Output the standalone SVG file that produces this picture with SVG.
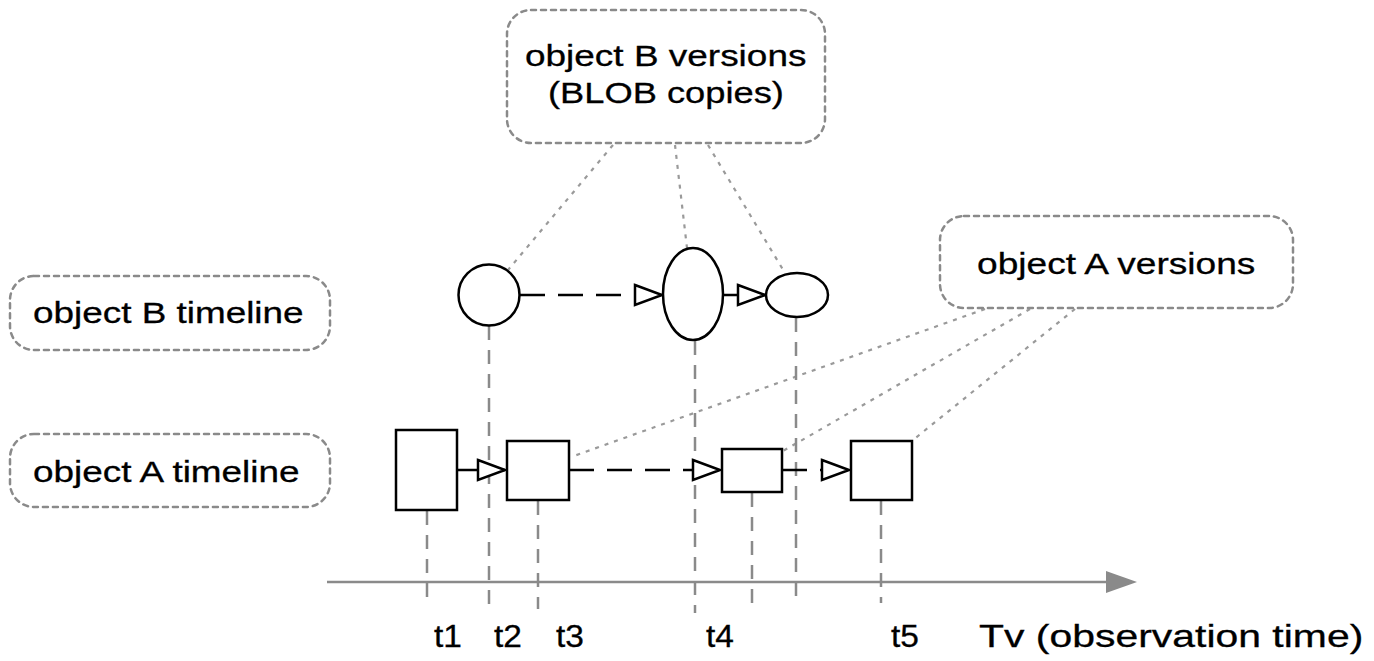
<svg xmlns="http://www.w3.org/2000/svg" width="1374" height="661" viewBox="0 0 1374 661">
<style>
  .lbl { font-family: "Liberation Sans", Arial, sans-serif; font-size: 30px; fill: #000; stroke: #000; stroke-width: 0.3; }
  .tl { font-family: "Liberation Sans", Arial, sans-serif; font-size: 31px; fill: #000; stroke: #000; stroke-width: 0.3; }
  .note { fill: #fff; stroke: #8a8a8a; stroke-width: 2.5; stroke-dasharray: 5 5; stroke-linecap: round; }
  .shape { fill: #fff; stroke: #000; stroke-width: 2.5; }
  .flow { fill: none; stroke: #000; stroke-width: 2.5; marker-end: url(#open); }
  .dashed { stroke-dasharray: 25 13; }
  .link { fill: none; stroke: #9a9a9a; stroke-width: 2.2; stroke-dasharray: 4 6; }
  .drop { fill: none; stroke: #8a8a8a; stroke-width: 2.5; stroke-dasharray: 14 10; }
  .axis { fill: none; stroke: #8a8a8a; stroke-width: 2.5; }
</style>
<defs>
  <marker id="open" markerUnits="userSpaceOnUse" markerWidth="32" markerHeight="26" viewBox="-2 -3 32 26" refX="27" refY="10" orient="auto">
    <path d="M0,0 L27,10 L0,20 Z" fill="#fff" stroke="#000" stroke-width="2.5"/>
  </marker>
</defs>
<rect width="1374" height="661" fill="#fff"/>

<g id="connectors">
  <line class="link" x1="613" y1="145" x2="508" y2="270"/>
  <line class="link" x1="675" y1="145" x2="687" y2="248"/>
  <line class="link" x1="708" y1="145" x2="785" y2="273"/>
  <line class="link" x1="985" y1="309" x2="571" y2="457"/>
  <line class="link" x1="1030" y1="309" x2="783" y2="451"/>
  <line class="link" x1="1075" y1="309" x2="913" y2="440"/>
  <line class="drop" x1="427" y1="511" x2="427" y2="599"/>
  <line class="drop" x1="489" y1="326" x2="489" y2="605"/>
  <line class="drop" x1="538" y1="501" x2="538" y2="609"/>
  <line class="drop" x1="695" y1="341" x2="695" y2="613"/>
  <line class="drop" x1="752" y1="493" x2="752" y2="604"/>
  <line class="drop" x1="796" y1="318" x2="796" y2="597"/>
  <line class="drop" x1="881" y1="501" x2="881" y2="603"/>
  <line class="flow dashed" x1="520" y1="295" x2="662" y2="295"/>
  <line class="flow" x1="723" y1="295" x2="765" y2="295"/>
  <line class="flow" x1="457" y1="470" x2="505" y2="470"/>
  <line class="flow dashed" x1="569" y1="470" x2="720" y2="470"/>
  <line class="flow dashed" x1="782" y1="470" x2="849" y2="470"/>
  <line class="axis" x1="327" y1="582" x2="1110" y2="582"/>
  <polygon points="1106,571 1137,582 1106,593" fill="#8a8a8a"/>
</g>

<g id="note-b-versions">
  <rect class="note" x="507" y="10" width="318" height="133" rx="24"/>
  <text class="lbl" transform="translate(525,66) scale(1.232,1)">object B versions</text>
  <text class="lbl" transform="translate(548,103) scale(1.21,1)">(BLOB copies)</text>
</g>
<g id="note-a-versions">
  <rect class="note" x="940" y="216" width="353" height="92" rx="24"/>
  <text class="lbl" transform="translate(977,274) scale(1.237,1)">object A versions</text>
</g>
<g id="label-b-timeline">
  <rect class="note" x="10" y="276" width="320" height="74" rx="24"/>
  <text class="lbl" transform="translate(33,323) scale(1.23,1)">object B timeline</text>
</g>
<g id="label-a-timeline">
  <rect class="note" x="10" y="434" width="320" height="73" rx="24"/>
  <text class="lbl" transform="translate(33,482) scale(1.23,1)">object A timeline</text>
</g>

<g id="b1"><circle class="shape" cx="489" cy="295" r="30.5"/></g>
<g id="b2"><ellipse class="shape" cx="693" cy="294" rx="30" ry="46"/></g>
<g id="b3"><ellipse class="shape" cx="797" cy="295" rx="31" ry="22"/></g>

<g id="a1"><rect class="shape" x="396" y="430" width="61" height="80"/></g>
<g id="a2"><rect class="shape" x="507" y="441" width="62" height="59"/></g>
<g id="a3"><rect class="shape" x="722" y="449" width="60" height="43"/></g>
<g id="a4"><rect class="shape" x="851" y="441" width="61" height="59"/></g>

<g id="axis-labels">
  <text class="tl" transform="translate(434,647) scale(1.08,1)">t1</text>
  <text class="tl" transform="translate(494,647) scale(1.08,1)">t2</text>
  <text class="tl" transform="translate(556,647) scale(1.08,1)">t3</text>
  <text class="tl" transform="translate(706,647) scale(1.08,1)">t4</text>
  <text class="tl" transform="translate(891,647) scale(1.08,1)">t5</text>
  <text class="tl" font-size="32" transform="translate(979,647) scale(1.32,1)">Tv (observation time)</text>
</g>
</svg>
